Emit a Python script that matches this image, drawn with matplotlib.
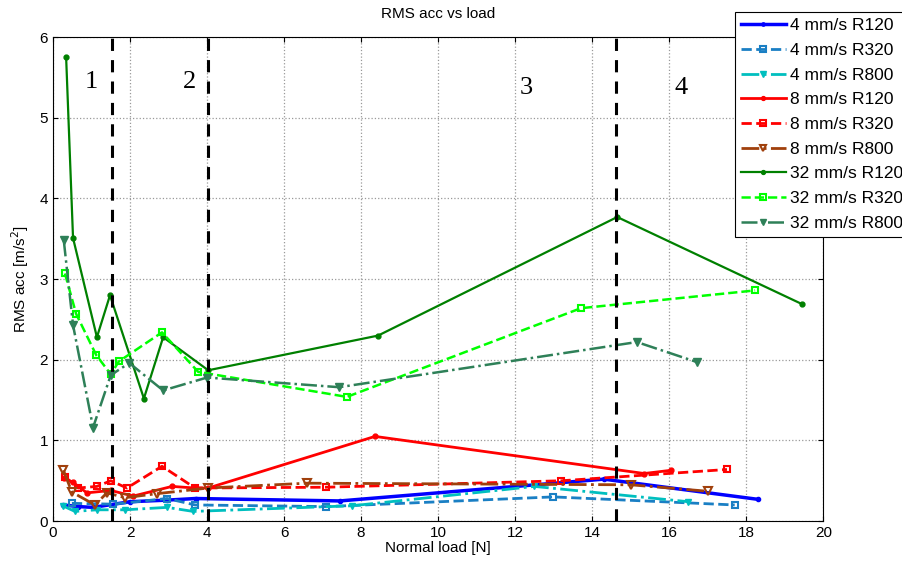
import matplotlib.pyplot as plt
import numpy as np

plt.rcParams['font.family'] = ['Liberation Sans', 'DejaVu Sans']

# 4 mm/s
x4_120 = [0.27, 0.65, 1.04, 2.0, 2.96, 3.7, 7.45, 14.3, 18.3]
y4_120 = [0.20, 0.18, 0.17, 0.24, 0.26, 0.28, 0.25, 0.52, 0.27]
x4_320 = [0.49, 1.57, 2.96, 3.69, 7.1, 12.99, 17.7]
y4_320 = [0.22, 0.21, 0.28, 0.20, 0.18, 0.30, 0.20]
x4_800 = [0.25, 0.57, 1.14, 1.87, 2.96, 3.64, 7.77, 12.5, 16.5]
y4_800 = [0.19, 0.12, 0.14, 0.14, 0.17, 0.12, 0.19, 0.43, 0.24]
# 8 mm/s
x8_120 = [0.29, 0.52, 0.88, 1.5, 2.08, 3.09, 3.69, 4.03, 8.36, 15.35, 16.05]
y8_120 = [0.53, 0.48, 0.35, 0.38, 0.31, 0.43, 0.41, 0.41, 1.05, 0.59, 0.63]
x8_320 = [0.31, 0.65, 1.14, 1.5, 1.92, 2.83, 3.69, 7.1, 13.2, 17.5]
y8_320 = [0.55, 0.41, 0.43, 0.50, 0.41, 0.68, 0.41, 0.42, 0.50, 0.64]
x8_800 = [0.27, 0.49, 1.09, 1.40, 1.87, 2.70, 4.03, 6.6, 15.0, 17.0]
y8_800 = [0.63, 0.36, 0.20, 0.35, 0.29, 0.34, 0.41, 0.47, 0.45, 0.37]
# 32 mm/s
x32_120 = [0.34, 0.52, 1.14, 1.48, 2.36, 2.86, 4.03, 8.44, 14.65, 19.45]
y32_120 = [5.76, 3.51, 2.28, 2.80, 1.52, 2.28, 1.87, 2.30, 3.77, 2.69]
x32_320 = [0.31, 0.60, 1.12, 1.50, 1.71, 2.83, 3.77, 7.63, 13.71, 18.23]
y32_320 = [3.07, 2.57, 2.06, 1.82, 1.98, 2.34, 1.85, 1.54, 2.64, 2.86]
x32_800 = [0.28, 0.52, 1.04, 1.50, 1.98, 2.86, 4.0, 7.43, 15.16, 16.73]
y32_800 = [3.48, 2.43, 1.16, 1.81, 1.96, 1.62, 1.78, 1.66, 2.22, 1.97]

zones = [1.53, 4.03, 14.62]
zone_labels = ['1', '2', '3', '4']
zone_x = [1.0, 3.55, 12.3, 16.3]
zone_y = [5.45, 5.45, 5.37, 5.37]

fig = plt.figure(figsize=(9.03, 5.72), dpi=100)
ax = fig.add_axes([0.0587, 0.089, 0.853, 0.846])

ax.plot(x4_120, y4_120, '-', color='#0000ff', lw=2.5, marker='.', ms=6, label='4 mm/s R120')
ax.plot(x4_320, y4_320, '--', color='#1a7fc4', lw=2, marker='s', ms=5, mfc='none', mew=1.5, label='4 mm/s R320')
ax.plot(x4_800, y4_800, '-.', color='#00bfbf', lw=2, marker='v', ms=5, label='4 mm/s R800')
ax.plot(x8_120, y8_120, '-', color='#ff0000', lw=2, marker='.', ms=7, label='8 mm/s R120')
ax.plot(x8_320, y8_320, '--', color='#ff0000', lw=2, marker='s', ms=5, mfc='none', mew=1.5, label='8 mm/s R320')
ax.plot(x8_800, y8_800, '-.', color='#a0400c', lw=2, marker='v', ms=6, mfc='none', mew=1.5, label='8 mm/s R800')
ax.plot(x32_120, y32_120, '-', color='#008000', lw=1.6, marker='.', ms=7, label='32 mm/s R120')
ax.plot(x32_320, y32_320, '--', color='#00ff00', lw=1.8, marker='s', ms=5, mfc='none', mew=1.5, label='32 mm/s R320')
ax.plot(x32_800, y32_800, '-.', color='#2e8058', lw=1.8, marker='v', ms=6, label='32 mm/s R800')

for z in zones:
    ax.axvline(z, color='k', ls=(0, (4, 3)), lw=2.2)
for t, zx, zy in zip(zone_labels, zone_x, zone_y):
    ax.text(zx, zy, t, family='Liberation Serif', fontsize=19, ha='center', va='center')

ax.set_xlim(0, 20)
ax.set_ylim(0, 6)
ax.set_xticks(np.arange(0, 21, 2))
ax.set_yticks(np.arange(0, 7, 1))
ax.grid(True, ls=':', color='#999999', lw=0.9)
ax.tick_params(direction='in', top=True, right=True, labelsize=11)
ax.set_xlabel('Normal load [N]', fontsize=11, labelpad=1)
ax.set_ylabel('RMS acc [m/s$^2$]', fontsize=11, labelpad=6)
ax.set_title('RMS acc vs load', fontsize=11, pad=14)

leg = fig.legend(loc='upper left', bbox_to_anchor=(0.8135, 0.979), fontsize=12.5,
                 handlelength=2.6, handletextpad=0.25, labelspacing=0.55,
                 borderaxespad=0, borderpad=0.35, fancybox=False, framealpha=1,
                 edgecolor='k', markerscale=0.8)
leg.get_frame().set_linewidth(0.8)

fig.savefig('out.png', dpi=100)
